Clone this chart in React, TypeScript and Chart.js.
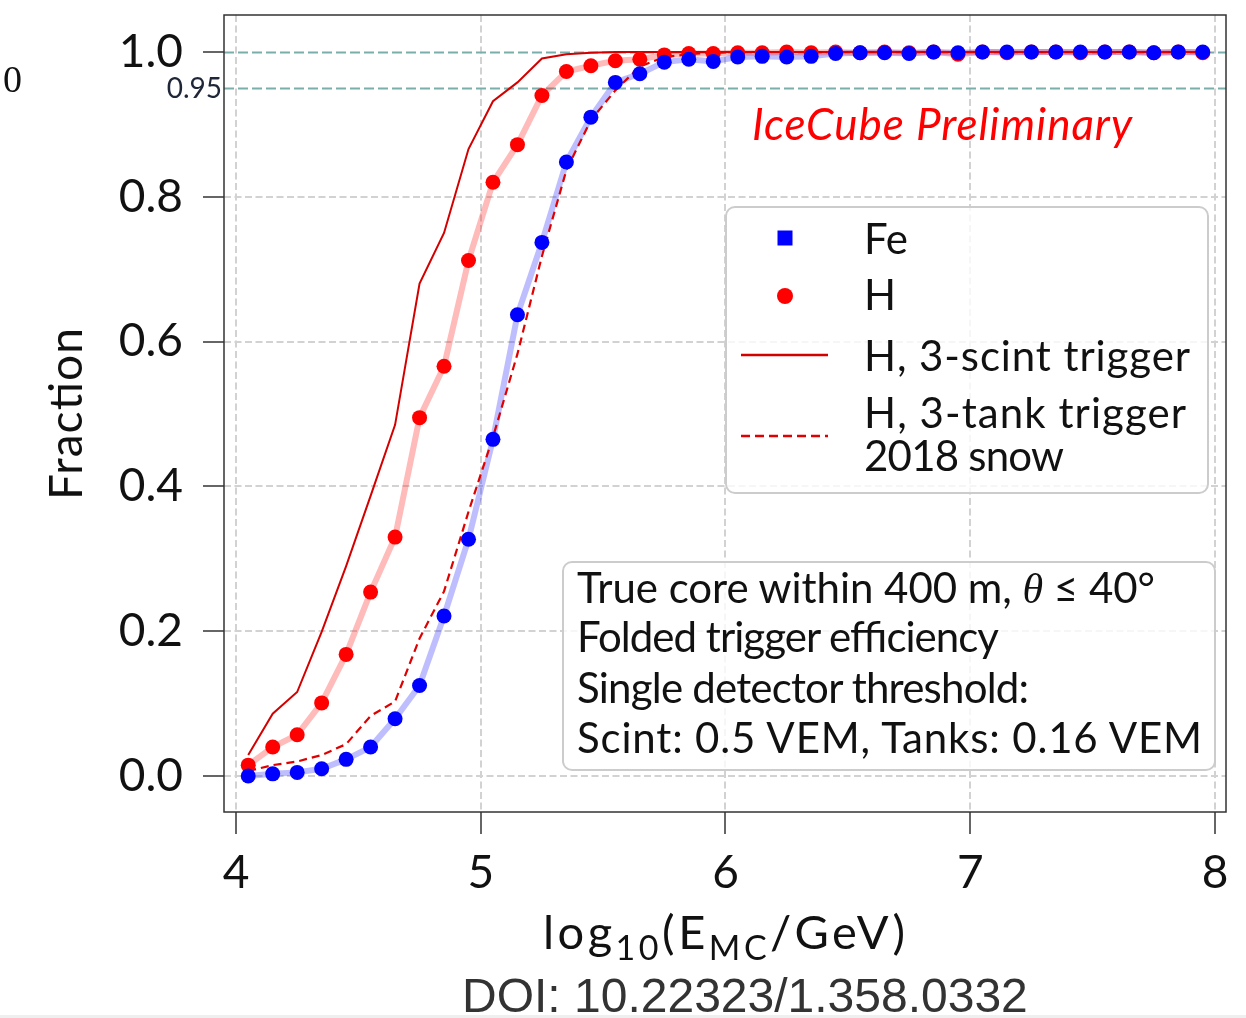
import React, { useEffect, useRef } from "react";
import { Chart, registerables } from "chart.js";

Chart.register(...registerables);

// ---------- data ----------
const energies = [
  4.05, 4.15, 4.25, 4.35, 4.45, 4.55, 4.65, 4.75, 4.85, 4.95,
  5.05, 5.15, 5.25, 5.35, 5.45, 5.55, 5.65, 5.75, 5.85, 5.95,
  6.05, 6.15, 6.25, 6.35, 6.45, 6.55, 6.65, 6.75, 6.85, 6.95,
  7.05, 7.15, 7.25, 7.35, 7.45, 7.55, 7.65, 7.75, 7.85, 7.95,
];

const feFraction = [
  0.0, 0.003, 0.005, 0.01, 0.023, 0.04, 0.079, 0.125, 0.221, 0.327,
  0.465, 0.637, 0.737, 0.848, 0.91, 0.958, 0.97, 0.986, 0.99, 0.987,
  0.993, 0.994, 0.993, 0.994, 0.998, 0.999, 0.999, 0.998, 1.0, 0.999,
  1.0, 1.0, 1.0, 1.0, 1.0, 1.0, 1.0, 0.999, 1.0, 1.0,
];

const hFraction = [
  0.015, 0.04, 0.057, 0.101, 0.168, 0.254, 0.33, 0.495, 0.566, 0.712,
  0.82, 0.872, 0.94, 0.973, 0.981, 0.988, 0.99, 0.996, 0.998, 0.998,
  0.999, 0.999, 1.0, 0.999, 1.0, 0.999, 1.0, 0.999, 1.0, 0.997,
  1.0, 0.999, 1.0, 1.0, 0.999, 1.0, 1.0, 0.999, 1.0, 0.999,
];

const hScintTrigger = [
  0.029, 0.086, 0.116, 0.199, 0.29, 0.387, 0.485, 0.68, 0.75, 0.866,
  0.932, 0.958, 0.991, 0.997, 0.999, 1.0, 1.0, 1.0, 1.0, 1.0,
  1.0, 1.0, 1.0, 1.0, 1.0, 1.0, 1.0, 1.0, 1.0, 1.0,
  1.0, 1.0, 1.0, 1.0, 1.0, 1.0, 1.0, 1.0, 1.0, 1.0,
];

const hTankTrigger = [
  0.007, 0.015, 0.02, 0.029, 0.044, 0.083, 0.103, 0.19, 0.255, 0.365,
  0.468, 0.583, 0.718, 0.837, 0.906, 0.947, 0.98, 0.993, 0.997, 0.999,
  1.0, 1.0, 1.0, 1.0, 1.0, 1.0, 1.0, 1.0, 1.0, 1.0,
  1.0, 1.0, 1.0, 1.0, 1.0, 1.0, 1.0, 1.0, 1.0, 1.0,
];

const xTickValues = [4, 5, 6, 7, 8];
const yTickValues = [0.0, 0.2, 0.4, 0.6, 0.8, 1.0];
const refLevels = [1.0, 0.95];
const refLabel = "0.95";
const xLimits = [3.951, 8.045];
const yLimits = [-0.0497, 1.0511];

const legendLabels = ["Fe", "H", "H, 3-scint trigger", "H, 3-tank trigger", "2018 snow"];
const infoLines = [
  "Folded trigger efficiency",
  "Single detector threshold:",
  "Scint: 0.5 VEM, Tanks: 0.16 VEM",
];

// ---------- helpers ----------
const toPoints = (ys: number[]) => energies.map((x, i) => ({ x, y: ys[i] }));

const framePlugin = {
  id: "frameAndRefs",
  beforeDatasetsDraw(chart: any) {
    const { ctx, chartArea, scales } = chart;
    ctx.save();
    ctx.strokeStyle = "#7aaeaa";
    ctx.lineWidth = 1.8;
    ctx.setLineDash([10, 4]);
    refLevels.forEach((v) => {
      const y = Math.round(scales.y.getPixelForValue(v)) + 0.5;
      ctx.beginPath();
      ctx.moveTo(chartArea.left, y);
      ctx.lineTo(chartArea.right, y);
      ctx.stroke();
    });
    ctx.restore();
  },
  afterDraw(chart: any) {
    const { ctx, chartArea, scales } = chart;
    ctx.save();
    ctx.strokeStyle = "#333";
    ctx.lineWidth = 1.5;
    ctx.setLineDash([]);
    ctx.strokeRect(chartArea.left, chartArea.top, chartArea.right - chartArea.left, chartArea.bottom - chartArea.top);
    ctx.fillStyle = "#1e2638";
    ctx.font = "28px Lato";
    ctx.textAlign = "right";
    ctx.textBaseline = "middle";
    ctx.fillText(refLabel, chartArea.left - 2, scales.y.getPixelForValue(0.95) + 1);
    ctx.restore();
  },
};

export default function App() {
  const canvasRef = useRef<HTMLCanvasElement>(null);

  useEffect(() => {
    const canvas = canvasRef.current;
    if (!canvas) return;
    const tickFont = { family: "Lato", size: 46 };
    const chart = new Chart(canvas, {
      type: "scatter",
      data: {
        datasets: [
          {
            label: "Fe band",
            data: toPoints(feFraction),
            showLine: true,
            borderColor: "rgba(40,40,255,0.3)",
            borderWidth: 6,
            borderJoinStyle: "round",
            borderCapStyle: "round",
            pointRadius: 0,
            order: 6,
          },
          {
            label: "H band",
            data: toPoints(hFraction),
            showLine: true,
            borderColor: "rgba(255,40,40,0.32)",
            borderWidth: 6,
            borderJoinStyle: "round",
            borderCapStyle: "round",
            pointRadius: 0,
            order: 5,
          },
          {
            label: "H, 3-scint trigger",
            data: toPoints(hScintTrigger),
            showLine: true,
            borderColor: "#d40000",
            borderWidth: 2,
            pointRadius: 0,
            order: 4,
          },
          {
            label: "H, 3-tank trigger 2018 snow",
            data: toPoints(hTankTrigger),
            showLine: true,
            borderColor: "#e00000",
            borderWidth: 2.2,
            borderDash: [8, 5],
            pointRadius: 0,
            order: 3,
          },
          {
            label: "H",
            data: toPoints(hFraction),
            showLine: false,
            pointRadius: 7.5,
            pointBackgroundColor: "#ff0000",
            pointBorderWidth: 0,
            order: 2,
          },
          {
            label: "Fe",
            data: toPoints(feFraction),
            showLine: false,
            pointRadius: 7.5,
            pointBackgroundColor: "#0000ff",
            pointBorderWidth: 0,
            order: 1,
          },
        ],
      },
      options: {
        responsive: false,
        animation: false,
        devicePixelRatio: 1,
        layout: { padding: { left: 0, right: 20, top: 15, bottom: 0 } },
        plugins: { legend: { display: false }, tooltip: { enabled: false } },
        scales: {
          x: {
            type: "linear",
            min: xLimits[0],
            max: xLimits[1],
            afterBuildTicks: (s: any) => {
              s.ticks = xTickValues.map((v) => ({ value: v }));
            },
            afterFit: (s: any) => {
              s.height = 206;
              s.paddingLeft = 0;
              s.paddingRight = 0;
            },
            ticks: {
              font: tickFont,
              color: "#111",
              padding: 12,
              maxRotation: 0,
              autoSkip: false,
              callback: (v: any) => String(v),
            },
            grid: {
              color: "#d2d2d2",
              lineWidth: 2,
              tickLength: 22,
              tickColor: "#333",
              tickWidth: 1.5,
              tickBorderDash: [],
            },
            border: { display: false, dash: [7, 3.5] },
          },
          y: {
            type: "linear",
            min: yLimits[0],
            max: yLimits[1],
            afterBuildTicks: (s: any) => {
              s.ticks = yTickValues.map((v) => ({ value: v }));
            },
            afterFit: (s: any) => {
              s.width = 224;
              s.paddingTop = 0;
              s.paddingBottom = 0;
            },
            ticks: {
              font: tickFont,
              color: "#111",
              padding: 20,
              autoSkip: false,
              callback: (v: any) => Number(v).toFixed(1),
            },
            grid: {
              color: (c: any) => (c.tick && c.tick.value === 1 ? "rgba(0,0,0,0)" : "#d2d2d2"),
              lineWidth: 2,
              tickLength: 21,
              tickColor: "#333",
              tickWidth: 1.5,
              tickBorderDash: [],
            },
            border: { display: false, dash: [7, 3.5] },
          },
        },
      },
      plugins: [framePlugin],
    } as any);
    return () => chart.destroy();
  }, []);

  const sans = "Lato";
  return (
    <div style={{ position: "absolute", left: 0, top: 0, width: 1246, height: 1018, overflow: "hidden", background: "#fff" }}>
      <canvas ref={canvasRef} width={1246} height={1018} style={{ position: "absolute", left: 0, top: 0, width: 1246, height: 1018 }} />
      <svg width={1246} height={1018} style={{ position: "absolute", left: 0, top: 0, pointerEvents: "none" }}>
        <text x={3} y={92} fontFamily="'Liberation Serif'" fontSize={38} fill="#111">0</text>
        <text x={752} y={140} fontFamily={sans} fontStyle="italic" fontSize={44} fill="#ff0000" textLength={380} lengthAdjust="spacing">IceCube Preliminary</text>

        {/* legend */}
        <rect x={726} y={207} width={482} height={286} rx={9} fill="rgba(255,255,255,0.8)" stroke="#cccccc" strokeWidth={2} />
        <rect x={777.5} y={230.5} width={15} height={15} fill="#0000ff" />
        <circle cx={785} cy={296} r={8} fill="#ff0000" />
        <line x1={741} x2={828} y1={355} y2={355} stroke="#d40000" strokeWidth={2.5} />
        <line x1={741} x2={828} y1={436} y2={436} stroke="#e00000" strokeWidth={2.5} strokeDasharray="9 5" />
        <g fontFamily={sans} fontSize={42} fill="#111">
          <text x={864} y={254} textLength={44} lengthAdjust="spacing">{legendLabels[0]}</text>
          <text x={864} y={310}>{legendLabels[1]}</text>
          <text x={864} y={371} textLength={326} lengthAdjust="spacing">{legendLabels[2]}</text>
          <text x={864} y={428} textLength={322} lengthAdjust="spacing">{legendLabels[3]}</text>
          <text x={864} y={471} textLength={200} lengthAdjust="spacing">{legendLabels[4]}</text>
        </g>

        {/* info box */}
        <rect x={563} y={562} width={652} height={208} rx={9} fill="rgba(255,255,255,0.8)" stroke="#cccccc" strokeWidth={2} />
        <g fontFamily={sans} fontSize={42} fill="#111">
          <text x={577} y={603} textLength={578} lengthAdjust="spacing">
            True core within 400 m,{" "}
            <tspan fontFamily="'Liberation Serif'" fontStyle="italic">θ</tspan> ≤ 40°
          </text>
          <text x={577} y={652} textLength={422} lengthAdjust="spacing">{infoLines[0]}</text>
          <text x={577} y={703} textLength={452} lengthAdjust="spacing">{infoLines[1]}</text>
          <text x={577} y={753} textLength={625} lengthAdjust="spacing">{infoLines[2]}</text>
        </g>

        {/* axis titles */}
        <text x={543} y={949} fontFamily={sans} fontSize={47} fill="#111" textLength={362} lengthAdjust="spacing">
          log<tspan fontSize={34} dy={11}>10</tspan>
          <tspan dy={-11}>(E</tspan>
          <tspan fontSize={34} dy={11}>MC</tspan>
          <tspan dy={-11}>/GeV)</tspan>
        </text>
        <text transform="translate(82,414) rotate(-90)" textAnchor="middle" fontFamily={sans} fontSize={46} fill="#111" textLength={172} lengthAdjust="spacing">Fraction</text>

        <text x={462} y={1012} fontFamily="'Liberation Sans'" fontSize={48} fill="#333">DOI: 10.22323/1.358.0332</text>
        <rect x={0} y={1015} width={1246} height={3} fill="#efefef" />
      </svg>
    </div>
  );
}
